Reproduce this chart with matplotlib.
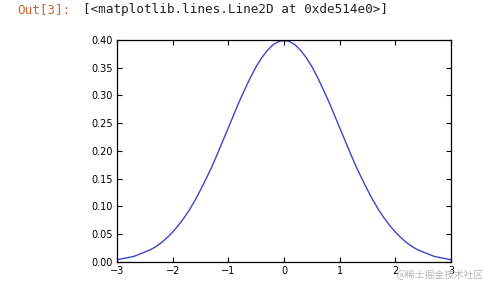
import matplotlib
matplotlib.use("Agg")
import matplotlib.pyplot as plt

# значення (права половина, крива симетрична)
x_right = [0.0, 0.1, 0.2, 0.3, 0.4, 0.5, 0.6, 0.7, 0.8, 0.9, 1.0,
           1.1, 1.2, 1.3, 1.4, 1.5, 1.6, 1.7, 1.8, 1.9, 2.0,
           2.1, 2.2, 2.3, 2.4, 2.5, 2.6, 2.7, 2.8, 2.9, 3.0]
y_right = [0.399, 0.397, 0.391, 0.381, 0.368, 0.352, 0.333, 0.312, 0.290, 0.266, 0.242,
           0.218, 0.194, 0.171, 0.150, 0.130, 0.111, 0.094, 0.079, 0.066, 0.054,
           0.044, 0.035, 0.028, 0.022, 0.018, 0.014, 0.010, 0.008, 0.006, 0.004]
x_vals = [-v for v in x_right[:0:-1]] + x_right
y_vals = y_right[:0:-1] + y_right
x_ticks = [-3, -2, -1, 0, 1, 2, 3]
y_ticks = [0.00, 0.05, 0.10, 0.15, 0.20, 0.25, 0.30, 0.35, 0.40]

fig = plt.figure(figsize=(4.88, 2.84), dpi=100)
ax = fig.add_axes([0.240, 0.0775, 0.684, 0.782])

ax.plot(x_vals, y_vals, color="#3a46c8", linewidth=1.0)
ax.set_xlim(-3, 3)
ax.set_ylim(0, 0.40)
ax.set_xticks(x_ticks)
ax.set_yticks(y_ticks)
ax.set_yticklabels([f"{v:.2f}" for v in y_ticks])
ax.tick_params(direction="in", top=True, right=True, labelsize=7, length=3.5, pad=3)
for s in ax.spines.values():
    s.set_linewidth(0.9)

# рядок виводу Jupyter
fig.text(17 / 488, 1 - 10 / 284, "Out[3]:", color="#d0622e", fontsize=9.1,
         family="DejaVu Sans Mono", va="center")
fig.text(83 / 488, 1 - 10 / 284, "[<matplotlib.lines.Line2D at 0xde514e0>]",
         color="#222222", fontsize=9.1, family="DejaVu Sans Mono", va="center")

# водяний знак
fig.text(484 / 488, 1 - 275 / 284, "@稀土掘金技术社区", color="#b8b8b8", fontsize=7,
         family=["Noto Sans CJK SC", "DejaVu Sans"], ha="right", va="center")

fig.savefig("out.png", dpi=100)
